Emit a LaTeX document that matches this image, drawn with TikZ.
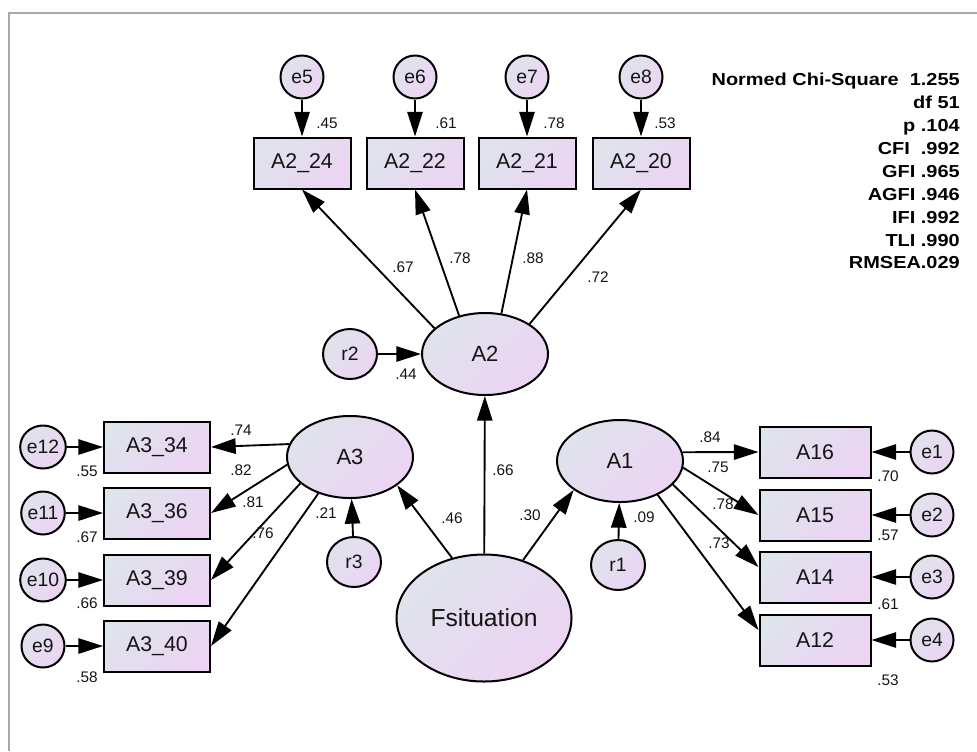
\documentclass[tikz,border=0pt]{standalone}
\usepackage{fontspec}
\setmainfont{Liberation Sans}
\newfontfamily\statfont{Liberation Sans}[FakeStretch=1.15]
\usetikzlibrary{arrows.meta,shapes.geometric}

\definecolor{shadeA}{RGB}{223,227,236}
\definecolor{shadeB}{RGB}{236,212,243}
\definecolor{framegray}{RGB}{168,168,168}
\definecolor{ink}{RGB}{20,20,20}

\tikzset{
  filled/.style={draw=black, line width=1.5pt, top color=shadeA, bottom color=shadeB,
    shading angle=45, text=ink, inner sep=0pt},
  obsbox/.style={filled, rectangle, minimum height=38.25pt,
    font=\fontsize{16pt}{18pt}\selectfont},
  topbox/.style={obsbox, minimum width=72.75pt},
  leftbox/.style={obsbox, minimum width=79.5pt},
  rightbox/.style={obsbox, minimum width=83.25pt},
  errc/.style={filled, ellipse, minimum width=32.25pt, minimum height=32.25pt,
    font=\fontsize{14.5pt}{16pt}\selectfont},
  resid/.style={filled, ellipse, minimum width=40.5pt, minimum height=37.5pt,
    font=\fontsize{14.5pt}{16pt}\selectfont},
  latent/.style={filled, ellipse, minimum width=94.5pt, minimum height=61.5pt,
    font=\fontsize{16.5pt}{18pt}\selectfont},
  arr/.style={draw=black, line width=1.4pt, -{Triangle[length=18.5pt,width=11.5pt]}},
  num/.style={text=ink, inner sep=0pt, font=\fontsize{11.5pt}{13pt}\selectfont},
  stat/.style={text=black, inner sep=0pt, anchor=base east,
    font=\statfont\bfseries\fontsize{13pt}{15pt}\selectfont},
}

\begin{document}
\begin{tikzpicture}[x=0.75pt, y=-0.75pt]
\useasboundingbox (0,0) rectangle (977,751);

% frame edges
\draw[framegray, line width=1.5pt] (9,751) -- (9,13) -- (977,13);

% latent variables and their residuals
\node[latent] (A2) at (485,354) {A2};
\node[latent] (A3) at (350,457) {A3};
\node[latent] (A1) at (620,461) {A1};
\node[latent, minimum width=131.25pt, minimum height=95.25pt,
      font=\fontsize{18.5pt}{21pt}\selectfont] (Fs) at (484,618) {Fsituation};
\node[resid] (r2) at (350,354) {r2};
\node[resid] (r3) at (354,562) {r3};
\node[resid] (r1) at (618,565) {r1};

% indicators of A2
\node[topbox] (b24) at (302,163) {A2\_24};
\node[topbox] (b22) at (415,163) {A2\_22};
\node[topbox] (b21) at (527,163) {A2\_21};
\node[topbox] (b20) at (641,163) {A2\_20};
\node[errc] (e5) at (302,77) {e5};
\node[errc] (e6) at (415,77) {e6};
\node[errc] (e7) at (527,77) {e7};
\node[errc] (e8) at (641,77) {e8};

% indicators of A3
\node[leftbox] (b34) at (157,447) {A3\_34};
\node[leftbox] (b36) at (157,513) {A3\_36};
\node[leftbox] (b39) at (157,580) {A3\_39};
\node[leftbox] (b40) at (157,646) {A3\_40};
\node[errc] (e12) at (43,447) {e12};
\node[errc] (e11) at (43,513) {e11};
\node[errc] (e10) at (43,580) {e10};
\node[errc] (e9)  at (43,646) {e9};

% indicators of A1
\node[rightbox] (b16) at (815,452) {A16};
\node[rightbox] (b15) at (815,515) {A15};
\node[rightbox] (b14) at (815,577) {A14};
\node[rightbox] (b12) at (815,640) {A12};
\node[errc] (e1) at (932,452) {e1};
\node[errc] (e2) at (932,515) {e2};
\node[errc] (e3) at (932,577) {e3};
\node[errc] (e4) at (932,640) {e4};

% error terms
\draw[arr] (e5) -- (b24);
\draw[arr] (e6) -- (b22);
\draw[arr] (e7) -- (b21);
\draw[arr] (e8) -- (b20);
\draw[arr] (e12) -- (b34);
\draw[arr] (e11) -- (b36);
\draw[arr] (e10) -- (b39);
\draw[arr] (e9) -- (b40);
\draw[arr] (e1) -- (b16);
\draw[arr] (e2) -- (b15);
\draw[arr] (e3) -- (b14);
\draw[arr] (e4) -- (b12);

% loadings
\draw[arr] (A2.153) -- (b24.south);
\draw[arr] (A2.124) -- (b22.south);
\draw[arr] (A2.68) -- (b21.south);
\draw[arr] (A2.34) -- (b20.south);
\draw[arr] (A3.168) -- (b34.east);
\draw[arr] (A3.187) -- (b36.east);
\draw[arr] (A3.208) -- (b39.east);
\draw[arr] (A3.229) -- (b40.east);
\draw[arr] (A1.8) -- (b16.west);
\draw[arr] (A1.-6) -- (b15.west);
\draw[arr] (A1.-24) -- (b14.170);
\draw[arr] (A1.-42) -- (b12.170);

% structural paths
\draw[arr] (Fs) -- (A2);
\draw[arr] (Fs.118) -- (A3.-31);
\draw[arr] (Fs.56) -- (A1.212);
\draw[arr] (r2) -- (A2);
\draw[arr] (r3) -- (A3);
\draw[arr] (r1) -- (A1);

% squared multiple correlations and standardized weights
\node[num] (n45) at (327,123) {.45};
\node[num] (n61) at (446,123) {.61};
\node[num] (n78t) at (554,123) {.78};
\node[num] (n53t) at (665,123) {.53};
\node[num] (n67) at (403,267) {.67};
\node[num] (n78) at (460,258) {.78};
\node[num] (n88) at (533,258) {.88};
\node[num] (n72) at (598,277) {.72};
\node[num] (n44) at (406,374) {.44};
\node[num] (n74) at (241,430) {.74};
\node[num] (n82) at (241,470) {.82};
\node[num] (n81) at (253,502) {.81};
\node[num] (n76) at (263,533) {.76};
\node[num] (n21) at (326,513) {.21};
\node[num] (n55) at (87,471) {.55};
\node[num] (n67l) at (87,537) {.67};
\node[num] (n66l) at (87,603) {.66};
\node[num] (n58) at (87,677) {.58};
\node[num] (n66) at (503,470) {.66};
\node[num] (n46) at (452,518) {.46};
\node[num] (n30) at (530,515) {.30};
\node[num] (n84) at (710,437) {.84};
\node[num] (n75) at (718,467) {.75};
\node[num] (n78r) at (723,504) {.78};
\node[num] (n73) at (719,543) {.73};
\node[num] (n09) at (644,517) {.09};
\node[num] (n70) at (888,476) {.70};
\node[num] (n57) at (888,535) {.57};
\node[num] (n61r) at (888,604) {.61};
\node[num] (n53r) at (888,680) {.53};

% fit statistics
\node[stat] (s1) at (960,85) {Normed Chi-Square\ \ 1.255};
\node[stat] (s2) at (960,108) {df 51};
\node[stat] (s3) at (960,131) {p .104};
\node[stat] (s4) at (960,154) {CFI\ \ .992};
\node[stat] (s5) at (960,177) {GFI .965};
\node[stat] (s6) at (960,200) {AGFI .946};
\node[stat] (s7) at (960,223) {IFI .992};
\node[stat] (s8) at (960,246) {TLI .990};
\node[stat] (s9) at (960,268) {RMSEA.029};
\end{tikzpicture}
\end{document}
